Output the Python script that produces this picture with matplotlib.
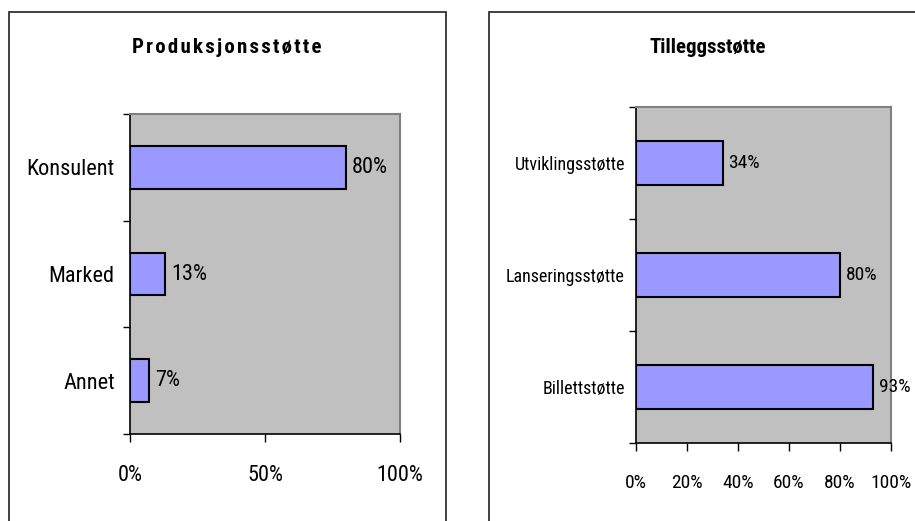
import matplotlib.pyplot as plt
from matplotlib.patches import Rectangle
from matplotlib.ticker import FixedLocator, PercentFormatter

# Produksjonsstøtte
left_title = 'Produksjonsstøtte'
left_categories = ['Konsulent', 'Marked', 'Annet']
left_values = [80, 13, 7]
left_xticks = [0, 50, 100]

# Tilleggsstøtte
right_title = 'Tilleggsstøtte'
right_categories = ['Utviklingsstøtte', 'Lanseringsstøtte', 'Billettstøtte']
right_values = [34, 80, 93]
right_xticks = [0, 20, 40, 60, 80, 100]

FONT = ['Roboto Condensed', 'Archivo Narrow', 'DejaVu Sans']
W, H = 915, 521


def draw_panel(fig, box, rect, title, title_x, categories, values, xticks, fs, yfs, ypad, title_spacing):
    # ramme rundt hele diagrammet (går ut av bildet nederst)
    x0, y0, x1, y1 = box
    fig.patches.append(Rectangle((x0 / W, 1 - y1 / H), (x1 - x0) / W, (y1 - y0) / H,
                                 transform=fig.transFigure, fill=False,
                                 edgecolor='#202020', linewidth=1.2, clip_on=False))
    fig.text(title_x / W, 1 - 47 / H, title_spacing.join(title), ha='center', va='center',
             fontsize=15, fontweight='bold', family=FONT)

    l, t, r, b = rect
    ax = fig.add_axes([l / W, 1 - b / H, (r - l) / W, (b - t) / H])
    ax.set_facecolor('#C0C0C0')

    n = len(categories)
    pos = list(range(n))[::-1]
    bars = ax.barh(pos, values, height=0.4, color='#9999FF',
                   edgecolor='black', linewidth=1.5)
    for bar, v in zip(bars, values):
        ax.text(bar.get_width() + 2.2, bar.get_y() + bar.get_height() / 2,
                '%d%%' % v, va='center', ha='left', fontsize=fs, family=FONT,
                clip_on=False)

    ax.set_xlim(0, 100)
    ax.set_ylim(-0.5, n - 0.5)
    ax.set_xticks(xticks)
    ax.xaxis.set_major_formatter(PercentFormatter(decimals=0))
    ax.set_yticks(pos)
    ax.set_yticklabels(categories)
    ax.yaxis.set_minor_locator(FixedLocator([i - 0.5 for i in range(n + 1)]))
    ax.tick_params(axis='y', which='major', length=0, pad=ypad, labelsize=yfs)
    ax.tick_params(axis='y', which='minor', length=5, width=1, color='black')
    ax.tick_params(axis='x', length=6, width=1, pad=16, labelsize=fs)
    for lab in ax.get_xticklabels() + ax.get_yticklabels():
        lab.set_family(FONT)

    ax.spines['left'].set_color('black')
    ax.spines['bottom'].set_color('black')
    ax.spines['left'].set_linewidth(1.2)
    ax.spines['bottom'].set_linewidth(1.2)
    ax.spines['top'].set_color('#808080')
    ax.spines['right'].set_color('#808080')
    ax.spines['top'].set_linewidth(1.5)
    ax.spines['right'].set_linewidth(1.5)
    return ax


fig = plt.figure(figsize=(W / 100, H / 100), dpi=100)
fig.patch.set_facecolor('white')

draw_panel(fig, (9, 12, 446, 540), (130, 114, 400, 434), left_title, 227,
           left_categories, left_values, left_xticks, 16, 16, 11, '\u200a')
draw_panel(fig, (489, 12, 928, 540), (636, 107, 891, 443), right_title, 708,
           right_categories, right_values, right_xticks, 14, 13, 8, '')

fig.savefig('out.png', dpi=100, facecolor='white')
